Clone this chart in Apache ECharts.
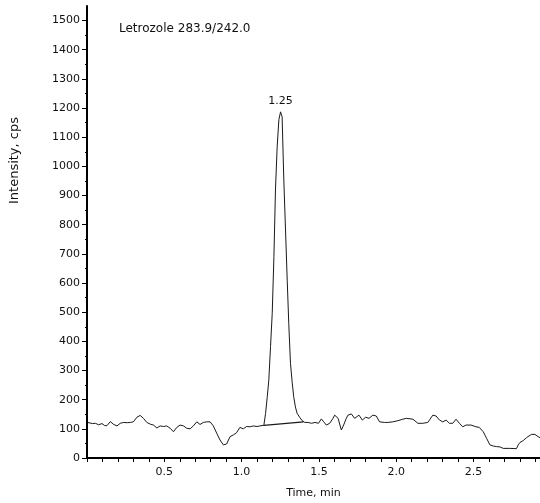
<!DOCTYPE html>
<html>
<head>
<meta charset="utf-8">
<script src="https://cdn.jsdelivr.net/npm/echarts@6/dist/echarts.min.js"></script>
<style>html,body{margin:0;padding:0;background:#fff;}#c{width:540px;height:503px;}</style>
</head>
<body>
<div id="c"></div>
<script>
const chartTitle = 'Letrozole 283.9/242.0';
const peakLabel = '1.25';
const times = [0.005,0.017,0.035,0.054,0.075,0.097,0.115,0.129,0.151,0.170,0.194,0.215,0.237,0.260,0.280,0.300,0.323,0.344,0.365,0.387,0.410,0.430,0.452,0.473,0.495,0.516,0.538,0.559,0.581,0.602,0.624,0.645,0.667,0.688,0.710,0.731,0.753,0.774,0.796,0.817,0.839,0.860,0.882,0.892,0.903,0.925,0.946,0.968,0.989,1.011,1.032,1.055,1.075,1.100,1.118,1.144,1.155,1.166,1.176,1.187,1.198,1.209,1.219,1.230,1.241,1.252,1.262,1.273,1.284,1.295,1.305,1.316,1.327,1.337,1.348,1.359,1.375,1.392,1.409,1.430,1.452,1.475,1.497,1.516,1.531,1.548,1.570,1.591,1.602,1.624,1.645,1.660,1.677,1.688,1.710,1.731,1.742,1.759,1.781,1.802,1.824,1.849,1.871,1.892,1.925,1.946,1.978,2.011,2.043,2.065,2.108,2.140,2.172,2.204,2.215,2.237,2.258,2.280,2.301,2.323,2.344,2.366,2.387,2.409,2.430,2.452,2.484,2.516,2.537,2.563,2.585,2.606,2.628,2.650,2.671,2.692,2.735,2.778,2.789,2.800,2.822,2.843,2.875,2.897,2.918,2.930];
const intensity = [122,124,118,119,114,118,111,111,125,116,110,119,122,121,122,124,140,146,136,122,116,113,103,110,108,110,102,90,105,113,110,102,100,110,124,115,122,124,124,110,85,62,45,39,48,73,79,87,105,100,108,107,110,108,110,112,153,210,267,382,496,690,919,1067,1160,1187,1170,953,782,610,462,325,260,210,175,153,140,128,122,122,119,122,119,134,124,113,119,136,147,136,96,113,136,147,151,136,130,147,130,140,136,147,144,124,122,122,124,128,133,136,133,119,119,122,130,147,144,130,124,130,119,119,133,119,107,113,113,107,105,90,67,45,41,39,38,33,33,32,45,53,60,70,81,81,73,70];
const peakApex = [1.252, 1187];
const baselineTimes = [1.144, 1.400];
const baselineValues = [112, 124];
const xMajorTicks = [0.5, 1.0, 1.5, 2.0, 2.5];
const xMinorTicks = [0,0.1,0.2,0.3,0.4,0.5,0.6,0.7,0.8,0.9,1.0,1.1,1.2,1.3,1.4,1.5,1.6,1.7,1.8,1.9,2.0,2.1,2.2,2.3,2.4,2.5,2.6,2.7,2.8,2.9];
const yMajorTicks = [0,100,200,300,400,500,600,700,800,900,1000,1100,1200,1300,1400,1500];
const yMinorTicks = [50,150,250,350,450,550,650,750,850,950,1050,1150,1250,1350,1450];
const xName = 'Time, min';
const yName = 'Intensity, cps';

const FONT = 'DejaVu Sans';
const traceData = times.map((t, i) => [t, intensity[i]]);
const baseData = baselineTimes.map((t, i) => [t, baselineValues[i]]);

const chart = echarts.init(document.getElementById('c'), null, {renderer: 'canvas'});
chart.setOption({
  animation: false,
  backgroundColor: '#fff',
  title: {text: chartTitle, left: 119, top: 23, padding: 0, textStyle: {fontFamily: FONT, fontSize: 12, fontWeight: 'normal', color: '#111'}},
  grid: {left: 87, right: 0, top: 6, bottom: 45, outerBoundsMode: 'none'},
  xAxis: {
    type: 'value', min: 0, max: 2.93,
    name: xName, nameLocation: 'middle', nameGap: 30,
    nameTextStyle: {fontFamily: FONT, fontSize: 11, color: '#111'},
    axisLine: {show: true, lineStyle: {color: '#000', width: 2}},
    axisTick: {show: true, customValues: xMinorTicks, length: 4, lineStyle: {color: '#000', width: 1}},
    axisLabel: {customValues: xMajorTicks, formatter: v => v.toFixed(1), margin: 9, fontFamily: FONT, fontSize: 11, color: '#111'},
    splitLine: {show: false}
  },
  yAxis: [{
    type: 'value', min: 0, max: 1550,
    axisLine: {show: true, lineStyle: {color: '#000', width: 2}},
    axisTick: {show: true, customValues: yMajorTicks, length: 5, lineStyle: {color: '#000', width: 1}},
    axisLabel: {customValues: yMajorTicks, formatter: v => String(v), margin: 7, fontFamily: FONT, fontSize: 11, color: '#111'},
    splitLine: {show: false}
  }, {
    type: 'value', min: 0, max: 1550, position: 'left', offset: 0,
    axisLine: {show: false},
    axisTick: {show: true, customValues: yMinorTicks, length: 2, lineStyle: {color: '#000', width: 1}},
    axisLabel: {show: false},
    splitLine: {show: false}
  }],
  graphic: [{
    type: 'text', left: 8, top: 117, rotation: Math.PI / 2,
    style: {text: yName, fontFamily: FONT, fontSize: 13, fill: '#111'}
  }],
  series: [{
    type: 'line', data: traceData, showSymbol: false, symbol: 'none',
    lineStyle: {color: '#1a1a1a', width: 1}, silent: true, z: 3,
    markPoint: {
      symbol: 'circle', symbolSize: 1, silent: true,
      itemStyle: {color: 'rgba(0,0,0,0)'},
      label: {show: true, position: 'top', distance: 5, formatter: peakLabel, color: '#111', fontFamily: FONT, fontSize: 11},
      data: [{coord: peakApex}]
    }
  }, {
    type: 'line', data: baseData, showSymbol: false, symbol: 'none',
    lineStyle: {color: '#1a1a1a', width: 1.3}, silent: true, z: 3
  }]
});
</script>
</body>
</html>
